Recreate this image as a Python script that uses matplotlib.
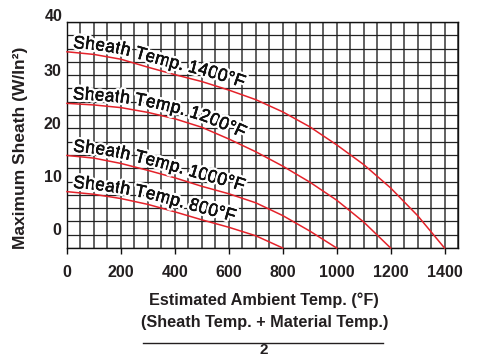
import numpy as np
import matplotlib
matplotlib.use("Agg")
import matplotlib.pyplot as plt
from matplotlib.ticker import MultipleLocator
from matplotlib import patheffects as pe
from matplotlib import font_manager
from matplotlib.font_manager import FontProperties
from matplotlib.ft2font import FT2Font
from matplotlib.lines import Line2D
import matplotlib.transforms as mtransforms

# ---------------- data ----------------
ambient_800 = [0, 100, 200, 300, 400, 500, 600, 700, 800]
watts_800 = [7.1, 6.6, 5.8, 4.7, 3.3, 1.8, 0.4, -1.2, -3.5]

ambient_1000 = [0, 100, 200, 300, 400, 500, 600, 700, 800, 900, 1000]
watts_1000 = [13.9, 13.4, 12.4, 11.1, 9.7, 8.1, 6.7, 5.0, 2.6, -0.3, -3.5]

ambient_1200 = [0, 100, 200, 300, 400, 500, 600, 700, 800, 900, 1000, 1100, 1200]
watts_1200 = [23.7, 23.4, 22.9, 22.0, 20.8, 19.2, 17.0, 14.6, 11.9, 8.9, 5.5, 1.4, -3.5]

ambient_1400 = [0, 100, 200, 300, 400, 500, 600, 700, 800, 900, 1000, 1100, 1200, 1300, 1400]
watts_1400 = [33.4, 32.9, 32.0, 30.5, 29.1, 27.8, 26.2, 24.4, 22.1, 19.3, 15.9, 12.2, 7.8, 2.6, -3.5]

curve_labels = ["Sheath Temp. 800°F", "Sheath Temp. 1000°F",
                "Sheath Temp. 1200°F", "Sheath Temp. 1400°F"]

x_ticks = [0, 200, 400, 600, 800, 1000, 1200, 1400]
x_tick_labels = ["0", "200", "400", "600", "800", "1000", "1200", "1400"]
y_ticks = [0, 10, 20, 30, 40]
y_tick_labels = ["0", "10", "20", "30", "40"]

y_title = "Maximum Sheath (W/In²)"
x_title_1 = "Estimated Ambient Temp. (°F)"
x_title_2 = "(Sheath Temp. + Material Temp.)"
x_title_3 = "2"

# ---------------- styling ----------------
plt.rcParams["font.family"] = ["Liberation Sans", "DejaVu Sans"]
TXT = "#231f20"
RED = "#e4222a"

W, H = 478, 356
fig = plt.figure(figsize=(W / 100, H / 100), dpi=100)
L, R, T, B = 67, 458, 22, 248
ax = fig.add_axes([L / W, 1 - B / H, (R - L) / W, (B - T) / H])
ax.set_xlim(0, 1450)
ax.set_ylim(-3.5, 39)

# grid
ax.xaxis.set_minor_locator(MultipleLocator(50))
ax.yaxis.set_minor_locator(MultipleLocator(2.5, offset=1.5))
ax.grid(which="both", axis="x", color="#454545", lw=1.2, zorder=0)
ax.grid(which="minor", axis="y", color="#222222", lw=0.9, zorder=0)
ax.set_axisbelow(True)

for sp in ax.spines.values():
    sp.set_color("#111111")
    sp.set_linewidth(1.0)

# ticks
ax.set_xticks(x_ticks, x_tick_labels)
ax.set_yticks(y_ticks[:-1], y_tick_labels[:-1])
ax.tick_params(axis="x", which="major", length=4, width=1.0, color="#111111",
               direction="out", pad=8, labelsize=11.5, labelcolor=TXT)
ax.tick_params(axis="x", which="minor", length=0)
ax.tick_params(axis="y", which="both", length=0, pad=4, labelsize=11.5, labelcolor=TXT)
for lab in ax.get_xticklabels() + ax.get_yticklabels():
    lab.set_fontweight("bold")
# top label (outside the axes limits)
ax.text(-0.012, y_ticks[-1], y_tick_labels[-1],
        transform=mtransforms.blended_transform_factory(ax.transAxes, ax.transData),
        ha="right", va="center", fontsize=11.5, fontweight="bold", color=TXT,
        clip_on=False)

# curves
series = [(ambient_800, watts_800), (ambient_1000, watts_1000),
          (ambient_1200, watts_1200), (ambient_1400, watts_1400)]
for xs, ys in series:
    ax.plot(xs, ys, color=RED, lw=1.1, zorder=3, clip_on=False)

# text following curves
fig.canvas.draw()
ann_fp = FontProperties(family="Liberation Sans", weight="normal")
ann_size = 12.8
ft = FT2Font(font_manager.findfont(ann_fp))
ft.set_size(ann_size, fig.dpi)


def text_on_curve(xs, ys, text, x_start, off0, off1):
    trans = ax.transData
    xd = np.linspace(xs[0], xs[-1], 600)
    yd = np.interp(xd, xs, ys)
    P = trans.transform(np.column_stack([xd, yd]))
    seg = np.hypot(np.diff(P[:, 0]), np.diff(P[:, 1]))
    s = np.concatenate([[0], np.cumsum(seg)])
    s0 = np.interp(x_start, xd, s)
    advs = [ft.load_char(ord(ch)).linearHoriAdvance / 65536 for ch in text]
    total = sum(advs)
    pos = 0.0
    for ch, adv in zip(text, advs):
        sc = s0 + pos + adv / 2
        frac = (pos + adv / 2) / total
        off = off0 + (off1 - off0) * frac
        px = np.interp(sc, s, P[:, 0])
        py = np.interp(sc, s, P[:, 1])
        xa = np.interp(sc - 10, s, P[:, 0]); ya = np.interp(sc - 10, s, P[:, 1])
        xb = np.interp(sc + 10, s, P[:, 0]); yb = np.interp(sc + 10, s, P[:, 1])
        ang = np.arctan2(yb - ya, xb - xa)
        nx, ny = -np.sin(ang), np.cos(ang)
        bx, by = px + nx * off, py + ny * off
        dx, dy = trans.inverted().transform((bx, by))
        if ch.strip():
            ax.text(dx, dy, ch, rotation=np.degrees(ang), rotation_mode="anchor",
                    ha="center", va="baseline", fontproperties=ann_fp,
                    fontsize=ann_size, color="#111111", zorder=4,
                    path_effects=[pe.withStroke(linewidth=3.8, foreground="white"),
                                  pe.withStroke(linewidth=0.4, foreground="#111111")])
        pos += adv


for (xs, ys), lab in zip(series, curve_labels):
    text_on_curve(xs, ys, lab, 20, 4.5, 7.0)

# axis titles
fig.text(21 / W, 1 - 147.5 / H, y_title, rotation=90, ha="center", va="center",
         fontsize=12.5, fontweight="bold", color=TXT)
fig.text(264 / W, 1 - 300 / H, x_title_1, ha="center", va="center",
         fontsize=11.7, fontweight="bold", color=TXT)
fig.text(265 / W, 1 - 323 / H, x_title_2, ha="center", va="center",
         fontsize=11.7, fontweight="bold", color=TXT)
fig.add_artist(Line2D([143 / W, 383 / W], [1 - 343 / H, 1 - 343 / H],
                      transform=fig.transFigure, color=TXT, lw=1.0))
fig.text(264 / W, 1 - 350 / H, x_title_3, ha="center", va="center",
         fontsize=11.0, fontweight="bold", color=TXT)

fig.savefig("out.png", dpi=100)
